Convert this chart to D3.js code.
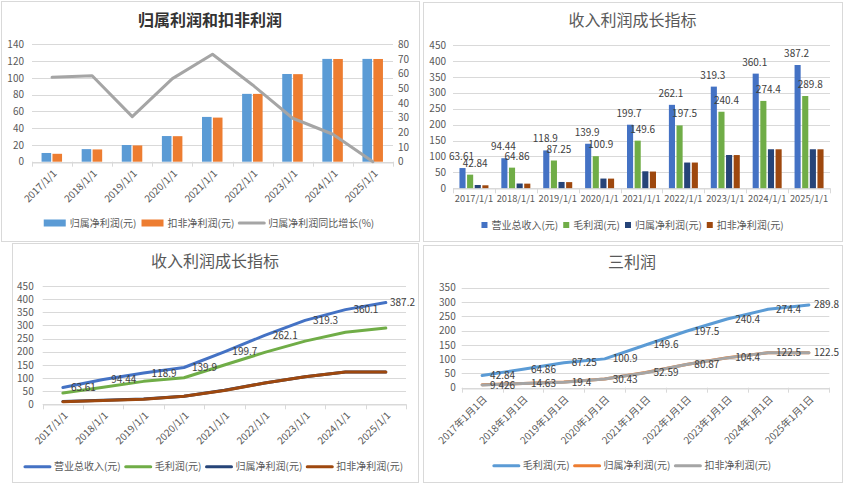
<!DOCTYPE html>
<html>
<head>
<meta charset="utf-8">
<script src="https://cdn.jsdelivr.net/npm/d3@7"></script>
<style>
body { margin: 0; background: #fff; }
text { font-family: "Noto Sans CJK SC", "Noto Sans", sans-serif; }
</style>
</head>
<body>
<svg id="chart" width="845" height="485"></svg>
<script>
// data
var years = ["2017/1/1", "2018/1/1", "2019/1/1", "2020/1/1", "2021/1/1", "2022/1/1", "2023/1/1", "2024/1/1", "2025/1/1"];
var yearsCn = ["2017年1月1日", "2018年1月1日", "2019年1月1日", "2020年1月1日", "2021年1月1日", "2022年1月1日", "2023年1月1日", "2024年1月1日", "2025年1月1日"];
var revenue = [63.61, 94.44, 118.9, 139.9, 199.7, 262.1, 319.3, 360.1, 387.2];
var grossProfit = [42.84, 64.86, 87.25, 100.9, 149.6, 197.5, 240.4, 274.4, 289.8];
var netProfit = [10.4, 15.0, 19.9, 30.6, 53.4, 80.9, 104.6, 122.6, 122.6];
var deductedProfit = [9.426, 14.63, 19.4, 30.43, 52.59, 80.87, 104.4, 122.5, 122.5];
var netGrowth = [57.5, 58.6, 30.7, 56.6, 73.2, 52.3, 29.6, 18.7, 0];

var seriesNames = {
  rev: "营业总收入(元)", gross: "毛利润(元)", net: "归属净利润(元)",
  ded: "扣非净利润(元)", growth: "归属净利润同比增长(%)"
};

var svg = d3.select("#chart");
var grid = "#d9d9d9", tickColor = "#595959", labelColor = "#404040";

function frame(x0, y0, x1, y1) {
  svg.append("rect").attr("x", x0 + 0.5).attr("y", y0 + 0.5)
    .attr("width", x1 - x0).attr("height", y1 - y0)
    .attr("fill", "#fff").attr("stroke", grid);
}

function title(txt, cx, cy, bold) {
  svg.append("text").attr("x", cx).attr("y", cy).attr("dy", "0.35em")
    .attr("text-anchor", "middle").attr("font-size", 16)
    .attr("font-weight", bold ? "bold" : "normal")
    .attr("fill", bold ? "#333" : "#595959").text(txt);
}

function gridAndY(x, y, ticks, pad) {
  var r = x.range();
  svg.append("g").selectAll("line").data(ticks).enter().append("line")
    .attr("x1", r[0]).attr("x2", r[1])
    .attr("y1", function(d) { return Math.round(y(d)) + 0.5; })
    .attr("y2", function(d) { return Math.round(y(d)) + 0.5; })
    .attr("stroke", grid);
  svg.append("g").attr("transform", "translate(" + r[0] + ",0)")
    .call(d3.axisLeft(y).tickValues(ticks).tickSize(0).tickPadding(pad))
    .call(function(g) { g.select(".domain").remove(); })
    .selectAll("text").attr("fill", tickColor).attr("font-size", 10)
    .style("font-family", "\"Noto Sans CJK SC\", sans-serif");
}

function catAxis(x, y0, labels, rotate, fs) {
  var bounds = x.domain().map(function(d) { return x(d); }).concat([x.range()[1]]);
  svg.append("g").selectAll("line").data(bounds).enter().append("line")
    .attr("x1", function(d) { return Math.round(d) + 0.5; })
    .attr("x2", function(d) { return Math.round(d) + 0.5; })
    .attr("y1", y0).attr("y2", y0 + 5).attr("stroke", grid);
  var ax = d3.axisBottom(x).tickSize(0).tickPadding(7)
    .tickFormat(function(d, i) { return labels[i]; });
  var g = svg.append("g").attr("transform", "translate(0," + (Math.round(y0) + 0.5) + ")").call(ax);
  g.select(".domain").attr("stroke", grid);
  var t = g.selectAll("text").attr("fill", tickColor).attr("font-size", fs || 10)
    .style("font-family", "\"Noto Sans CJK SC\", sans-serif");
  if (rotate) {
    t.attr("x", 0).attr("y", 0).attr("dy", "0.35em").attr("text-anchor", "end")
      .attr("transform", "translate(3,9) rotate(-45)");
  }
}

function legend(items, cx, cy) {
  var g = svg.append("g");
  var pos = 0;
  items.forEach(function(it) {
    var sw = it.type === "square" ? 6 : it.type === "rect" ? 22 : 25;
    if (it.type === "square") {
      g.append("rect").attr("x", pos).attr("y", cy - 3).attr("width", 6).attr("height", 6).attr("fill", it.color);
    } else if (it.type === "rect") {
      g.append("rect").attr("x", pos).attr("y", cy - 3.5).attr("width", 22).attr("height", 7).attr("fill", it.color);
    } else {
      g.append("line").attr("x1", pos).attr("x2", pos + 25).attr("y1", cy).attr("y2", cy)
        .attr("stroke", it.color).attr("stroke-width", 3).attr("stroke-linecap", "round");
    }
    pos += sw + 4;
    var t = g.append("text").attr("x", pos).attr("y", cy).attr("dy", "0.35em")
      .attr("font-size", 10).attr("fill", tickColor).text(it.name);
    pos += t.node().getComputedTextLength() + 5;
  });
  g.attr("transform", "translate(" + (cx - (pos - 5) / 2) + ",0)");
}

function lineSeries(x, y, vals, color) {
  var bw = x.bandwidth() / 2;
  var line = d3.line()
    .x(function(d, i) { return x(years[i]) + bw; })
    .y(function(d) { return y(d); });
  svg.append("path").datum(vals).attr("d", line).attr("fill", "none")
    .attr("stroke", color).attr("stroke-width", 3)
    .attr("stroke-linejoin", "round").attr("stroke-linecap", "round");
}

function pointLabels(x, y, vals, rightEdge) {
  var bw = x.bandwidth() / 2;
  svg.append("g").selectAll("text").data(vals).enter().append("text")
    .attr("y", function(d) { return y(d); }).attr("dy", "0.35em")
    .attr("font-size", 10).attr("fill", labelColor)
    .text(function(d) { return d; })
    .attr("x", function(d, i) {
      var w = this.getComputedTextLength();
      return Math.min(x(years[i]) + bw + 8, rightEdge - w - 3);
    });
}

// ---------- panel 1: 归属利润和扣非利润 ----------
frame(1, 1, 419, 241);
title("归属利润和扣非利润", 210, 20, true);
var x1 = d3.scaleBand().domain(years).range([32, 393]);
var y1L = d3.scaleLinear().domain([0, 140]).range([161.7, 44.3]);
var y1R = d3.scaleLinear().domain([0, 80]).range([161.7, 44.3]);
gridAndY(x1, y1L, d3.range(0, 141, 20), 8);
svg.append("g").attr("transform", "translate(" + x1.range()[1] + ",0)")
  .call(d3.axisRight(y1R).tickValues(d3.range(0, 81, 10)).tickSize(0).tickPadding(5))
  .call(function(g) { g.select(".domain").remove(); })
  .selectAll("text").attr("fill", tickColor).attr("font-size", 10);
var in1 = d3.scaleBand().domain(["net", "ded"]).range([-10.5, 10]).paddingInner(0.12);
[["net", netProfit, "#5b9bd5"], ["ded", deductedProfit, "#ed7d31"]].forEach(function(s) {
  svg.append("g").selectAll("rect").data(s[1]).enter().append("rect")
    .attr("x", function(d, i) { return x1(years[i]) + x1.bandwidth() / 2 + in1(s[0]); })
    .attr("width", in1.bandwidth())
    .attr("y", function(d) { return y1L(d); })
    .attr("height", function(d) { return y1L(0) - y1L(d); })
    .attr("fill", s[2]);
});
catAxis(x1, 161.7, years, true);
lineSeries(x1, y1R, netGrowth, "#a5a5a5");
legend([
  { name: seriesNames.net, color: "#5b9bd5", type: "rect" },
  { name: seriesNames.ded, color: "#ed7d31", type: "rect" },
  { name: seriesNames.growth, color: "#a5a5a5", type: "line" }
], 209, 223);

// ---------- panel 2: 收入利润成长指标 (bars) ----------
frame(423, 2, 842, 241);
title("收入利润成长指标", 632.5, 20, false);
var x2 = d3.scaleBand().domain(years).range([453, 830]);
var y2 = d3.scaleLinear().domain([0, 450]).range([188.3, 45]);
gridAndY(x2, y2, d3.range(0, 451, 50), 7);
var in2 = d3.scaleBand().domain(["rev", "gross", "net", "ded"]).range([-14.5, 14.5]).paddingInner(0.2);
var bars2 = [["rev", revenue, "#4472c4"], ["gross", grossProfit, "#70ad47"],
             ["net", netProfit, "#264478"], ["ded", deductedProfit, "#9e480e"]];
bars2.forEach(function(s) {
  svg.append("g").selectAll("rect").data(s[1]).enter().append("rect")
    .attr("x", function(d, i) { return x2(years[i]) + x2.bandwidth() / 2 + in2(s[0]); })
    .attr("width", in2.bandwidth())
    .attr("y", function(d) { return y2(d); })
    .attr("height", function(d) { return y2(0) - y2(d); })
    .attr("fill", s[2]);
});
catAxis(x2, 188.3, years, false, 9.3);
[["rev", revenue, -1], ["gross", grossProfit, 5]].forEach(function(s) {
  svg.append("g").selectAll("text").data(s[1]).enter().append("text")
    .attr("x", function(d, i) { return x2(years[i]) + x2.bandwidth() / 2 + in2(s[0]) + in2.bandwidth() / 2 + s[2]; })
    .attr("y", function(d) { return y2(d) - 8; })
    .attr("text-anchor", "middle").attr("font-size", 10).attr("fill", labelColor)
    .text(function(d) { return d; });
});
legend([
  { name: seriesNames.rev, color: "#4472c4", type: "square" },
  { name: seriesNames.gross, color: "#70ad47", type: "square" },
  { name: seriesNames.net, color: "#264478", type: "square" },
  { name: seriesNames.ded, color: "#9e480e", type: "square" }
], 632.5, 225);

// ---------- panel 3: 收入利润成长指标 (lines) ----------
frame(12, 243, 418, 482);
title("收入利润成长指标", 215, 261, false);
var x3 = d3.scaleBand().domain(years).range([42.7, 406]);
var y3 = d3.scaleLinear().domain([0, 450]).range([404.3, 286]);
gridAndY(x3, y3, d3.range(0, 451, 50), 9);
catAxis(x3, 404.3, years, true);
lineSeries(x3, y3, revenue, "#4472c4");
lineSeries(x3, y3, grossProfit, "#70ad47");
lineSeries(x3, y3, netProfit, "#264478");
lineSeries(x3, y3, deductedProfit, "#9e480e");
pointLabels(x3, y3, revenue, 418);
legend([
  { name: seriesNames.rev, color: "#4472c4", type: "line" },
  { name: seriesNames.gross, color: "#70ad47", type: "line" },
  { name: seriesNames.net, color: "#264478", type: "line" },
  { name: seriesNames.ded, color: "#9e480e", type: "line" }
], 214, 466.7);

// ---------- panel 4: 三利润 ----------
frame(423, 245, 842, 482);
title("三利润", 632, 262, false);
var x4 = d3.scaleBand().domain(years).range([461.7, 829.3]);
var y4 = d3.scaleLinear().domain([0, 350]).range([387.7, 287.7]);
gridAndY(x4, y4, d3.range(0, 351, 50), 6);
catAxis(x4, 387.7, yearsCn, true);
lineSeries(x4, y4, grossProfit, "#5b9bd5");
lineSeries(x4, y4, netProfit, "#ed7d31");
lineSeries(x4, y4, deductedProfit, "#a5a5a5");
pointLabels(x4, y4, grossProfit, 842);
pointLabels(x4, y4, deductedProfit, 842);
legend([
  { name: seriesNames.gross, color: "#5b9bd5", type: "line" },
  { name: seriesNames.net, color: "#ed7d31", type: "line" },
  { name: seriesNames.ded, color: "#a5a5a5", type: "line" }
], 632.5, 465.7);
</script>
</body>
</html>
